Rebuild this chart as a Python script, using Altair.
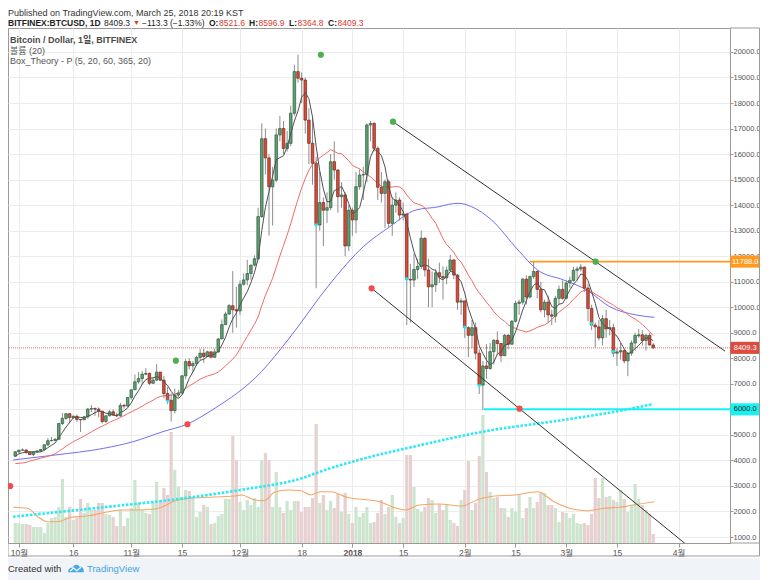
import altair as alt
import pandas as pd

# ---------------- data ----------------
# day index: 0 = 2017-10-01, -1 = 2017-09-30 ... 175 = 2018-03-25
first_day = -1
opens = [4166,
 4341,4403,4409,4317,4229,4328,4370,4426,4611,4773,4782,4826,5446,5647,5831,5678,5725,5605,5590,5708,6011,6031,6008,5930,5526,5750,5904,5780,5753,6153,6130,
 6468,6767,7078,7207,7379,7407,7022,7144,7459,7143,6618,6357,5950,6559,6635,7315,7871,7708,7790,8036,8200,8071,8253,8039,8250,8758,9318,9734,10059,9900,
 9856,10900,11070,11320,11650,11900,13550,16600,15850,14720,14980,16750,17000,16220,16420,17600,19230,18970,18900,17330,16420,15640,13220,14100,13800,13900,15700,15375,14330,14400,12400,
 13800,13420,14722,15180,15200,17140,17200,16224,14700,14460,14917,13285,14000,14200,13610,13650,11090,11065,11480,11600,12700,11460,10800,10880,11350,11200,11150,11450,11850,11260,10200,
 10250,9200,8900,9200,8200,6950,7700,7600,8260,8700,8580,8100,8900,8550,9450,10150,10200,11100,10400,11200,11400,10700,9900,10200,9700,9650,10350,10700,
 10350,10950,11050,11450,11500,11570,10750,9950,9300,9230,8800,9550,9150,9200,8200,8250,8300,7900,8200,8600,8880,8920,8700,8900,8521.6]
highs = [4358,
 4403,4470,4432,4352,4362,4413,4456,4624,4878,4922,4873,5446,5857,5837,5836,5776,5800,5605,5744,6060,6171,6076,6076,5935,5754,5971,6003,5876,6255,6214,6470,
 6766,7367,7461,7493,7617,7445,7254,7776,7459,7313,6873,6625,6812,6764,7342,7967,8004,7884,8101,8375,8374,8303,8267,8374,8790,9523,9817,10125,11417,10800,
 11046,11320,11858,11657,12032,13900,17200,17000,16000,15500,17000,17500,17300,16900,17900,19500,19891,19200,19000,17800,17400,15900,15300,14300,14500,16000,16500,15400,14900,14500,14000,
 13900,15300,15400,15500,17200,17300,17250,16300,15300,15000,15000,14300,14500,14300,14100,13700,11700,12100,11900,13000,12750,11900,11400,11500,11750,11600,11600,12050,11900,11300,10350,
 10250,9250,9500,9400,8350,7900,8550,8600,8750,9050,8580,8950,8950,9500,10250,10300,11150,11250,11250,11788,11450,11000,10300,10450,9900,10450,10850,11050,
 11050,11200,11580,11600,11700,11600,10900,10100,9400,9500,9700,9900,9500,9350,8400,8600,8350,8250,8700,9000,9150,9100,8950,9000,8596.9]
lows = [4160,
 4269,4377,4258,4210,4164,4320,4332,4405,4564,4744,4751,4822,5380,5591,5460,5649,5508,5111,5583,5627,5897,5746,5688,5451,5467,5721,5745,5689,5700,6030,6103,
 6378,6758,7002,6960,7333,6952,7000,7114,7101,6436,6204,5519,5844,6461,6634,7176,7561,7463,7694,7939,7824,8071,8038,8039,8214,8757,9318,9700,9000,9200,
 9694,10850,10863,11082,11604,11850,13500,15200,12800,13200,14900,16500,16000,16100,16300,17500,18800,18000,16800,15600,14800,10740,13000,12400,13300,13800,15000,13700,13900,12000,12200,
 12800,12900,14600,14200,14900,16500,16100,14200,14100,13100,13100,12800,13700,13400,13400,9300,9400,10800,11100,11500,11200,10000,10000,10600,10950,10300,10900,11400,11100,9900,9700,
 8800,8050,8400,7950,6600,5968,7200,7550,7750,8150,7850,8100,8350,8550,9400,9700,10100,10100,10350,11100,10350,9800,9600,9400,9300,9400,10100,10300,
 10300,10750,11000,11050,11400,10600,9450,9100,8400,8700,8500,8800,8900,8050,7700,7950,7800,7300,8100,8300,8800,8500,8300,8500,8364.8]
closes = [4338,
 4403,4409,4317,4229,4328,4370,4426,4611,4773,4782,4826,5446,5647,5831,5678,5725,5605,5590,5708,6011,6031,6008,5930,5526,5750,5904,5780,5753,6153,6130,6468,
 6767,7078,7207,7379,7407,7022,7144,7459,7143,6618,6357,5950,6559,6635,7315,7871,7708,7790,8036,8200,8071,8253,8039,8250,8758,9318,9734,10059,9900,9856,
 10900,11070,11320,11650,11900,13550,16600,15850,14720,14980,16750,17000,16220,16420,17600,19230,18970,18900,17330,16420,15640,13220,14100,13800,13900,15700,15375,14330,14400,12400,13800,
 13420,14722,15180,15200,17140,17200,16224,14700,14460,14917,13285,14000,14200,13610,13650,11090,11065,11480,11600,12700,11460,10800,10880,11350,11200,11150,11450,11850,11260,10200,10250,
 9200,8900,9200,8200,6950,7700,7600,8260,8700,8580,8100,8900,8550,9450,10150,10200,11100,10400,11200,11400,10700,9900,10200,9700,9650,10350,10700,10350,
 10950,11050,11450,11500,11570,10750,9950,9300,9230,8800,9550,9150,9200,8200,8250,8300,7900,8200,8600,8900,8920,8700,8900,8521.6,8409.3]
# volume, thousand BTC
volumes = [20,
 20,19,19,18,16,16,16,10,20,25,26,36,64,26,36,23,25,44,30,40,33,33,40,40,29,28,26,17,33,17,25,
 35,63,40,33,30,29,40,61,43,55,48,111,73,56,46,53,52,46,26,31,38,36,19,20,27,29,44,44,107,83,
 41,33,43,38,45,36,83,90,83,36,71,36,30,42,33,42,42,31,36,36,45,119,40,48,33,42,35,49,31,50,29,
 20,36,26,30,36,20,21,30,43,29,36,48,26,20,25,88,88,56,34,31,36,45,43,30,39,33,38,23,20,17,43,
 53,82,33,40,87,128,71,51,45,46,35,35,26,35,31,48,25,35,46,35,41,51,50,38,38,35,21,31,
 30,25,29,20,19,20,18,29,65,45,65,46,47,43,41,53,44,31,38,59,44,38,33,29,9]
# closes of 2017-09-11 .. 2017-09-29 (needed for the 5/20 day averages)
warmup_close = [4161,4130,3883,3155,3637,3625,3582,4066,3925,3906,3631,3631,3777,3660,3927,3892,4209,4186,4164]

ma60_day = [-1.6,10,23.4,31.5,39.7,46.5,53.3,66.9,74.2,86,95,102.3,109.5,115.9,118.6,121.3,124.9,130.4,137.7,143.1,150.3,156.7,163,170.3,175.3]
ma60_val = [4016,4212,4474,4733,5125,5426,5974,7475,8716,10950,12371,13154,13809,13938,14032,14071,13938,13417,12242,11458,11067,10675,10021,9696,9605]
ma365_day = [-1.6,23,45,61,78,86,92,113,128,150,167,175]
ma365_val = [1795,2160,2510,2840,3300,3700,3950,4670,5125,5580,5975,6210]
volma_day = [-1.6,2.4,5.2,7.9,10.6,14.4,18.8,23.4,28,32.4,37,39.7,42.4,47.1,52.5,56,59.6,61.5,65,67.7,70.5,74.3,77.8,80.5,83.2,86,90.5,99.6,104.1,106.8,110.4,115.9,122.2,126.8,131.3,136.8,143.1,147.6,153.1,156.7,161.2,165.8,169.4,175.3]
volma_val = [35.7,34.7,26.3,21.3,21.3,25.7,27,30.3,33,33,33.7,36.3,41.3,44.7,45.7,46.3,47,48,43,42.3,50.7,53,52.3,48,51.3,51.3,45.7,41.3,34.7,33,38,39,37,43.7,47,48,51.3,41.3,33.7,32.3,34.7,35.7,38,41.3]

green_dot_day = [83.3,103.2,43.3,159.1]
green_dot_val = [19891,17268,7906,11785]
red_dot_day = [97.3,138.1,46.5,-2.4]
red_dot_val = [10742,6026,5415,2998]
cyan_day = [41,82,107,123,127,158,164]
cyan_val = [6300,13200,11090,9200,6900,9330,8240]

trend_up_day = [103.2,194.8]
trend_up_val = [17268,8283]
trend_dn_day = [97.3,190.0]
trend_dn_val = [10742,26]

box_top_day, box_top_val = 141, 11788.0
box_bottom_day, box_bottom_val = 128.3, 6000.0
last_price = 8409.3

tick_days = [0,15,31,45,61,78,92,106,123,137,151,165,182]
tick_labels = ['10월','16','11월','15','12월','18','2018','15','2월','15','3월','15','4월']
price_ticks = list(range(1000, 20001, 1000))

# ---------------- chart ----------------
FONT = "Liberation Sans, Noto Sans CJK KR, sans-serif"
W, H = 722, 515
RIGHT = 752          # svg width (plot + right axis)
one = pd.DataFrame({'k': [0]})

xscale = alt.Scale(domain=[-1.63, 194.8], nice=False, zero=False)
pscale = alt.Scale(domain=[765, 20938], nice=False, zero=False)
vscale = alt.Scale(domain=[0, 515], nice=False)

label_expr = ("[" + ",".join("'%s'" % t for t in tick_labels) + "][indexof(["
              + ",".join(str(d) for d in tick_days) + "], datum.value)]")
x_axis = alt.Axis(values=tick_days, labelExpr=label_expr, title=None, grid=True,
                  gridColor='#ececec', domainColor='#9a9a9a', tickColor='#9a9a9a',
                  tickSize=4, labelColor='#555555', labelFontSize=8.5, labelFont=FONT,
                  labelPadding=1, labelFlush=False,
                  labelFontWeight={"condition": {"test": "datum.value == 92", "value": "bold"}, "value": "normal"})
y_axis = alt.Axis(orient='right', values=price_ticks, format='.1f', title=None, grid=True,
                  gridColor='#ececec', domainColor='#9a9a9a', tickColor='#9a9a9a',
                  tickSize=3, labelColor='#555555', labelFontSize=7.5, labelFont=FONT,
                  labelPadding=0)

def X(f='d'):
    return alt.X(f + ':Q', scale=xscale, axis=x_axis)

def Y(f):
    return alt.Y(f + ':Q', scale=pscale, axis=y_axis)

cdf = pd.DataFrame({'d': list(range(first_day, first_day + len(closes))),
                    'o': opens, 'h': highs, 'l': lows, 'c': closes, 'v': volumes})
up = 'datum.c >= datum.o'

vol_bars = alt.Chart(cdf).mark_bar(size=3.2, orient='vertical').encode(
    x=X(), y=alt.Y('v:Q', scale=vscale, axis=None),
    color=alt.condition(up, alt.value('#cde5ce'), alt.value('#e7d0d0')))
vol_ma = alt.Chart(pd.DataFrame({'d': volma_day, 'v': volma_val})).mark_line(
    color='#f6a567', strokeWidth=1.1, interpolate='monotone').encode(
    x=X(), y=alt.Y('v:Q', scale=vscale, axis=None))
vol_layer = alt.layer(vol_bars, vol_ma)

ma_df = pd.DataFrame({'d': list(range(first_day - len(warmup_close), first_day + len(closes))),
                      'c': warmup_close + closes})
sortd = [alt.SortField(field='d', order='ascending')]
ma20 = alt.Chart(ma_df).transform_window(m='mean(c)', frame=[-19, 0], sort=sortd).transform_filter(
    'datum.d >= -1').mark_line(color='#f26a6a', strokeWidth=1).encode(x=X(), y=Y('m'))
ma5 = alt.Chart(ma_df).transform_window(m='mean(c)', frame=[-4, 0], sort=sortd).transform_filter(
    'datum.d >= -1').mark_line(color='#505050', strokeWidth=1).encode(x=X(), y=Y('m'))
ma60 = alt.Chart(pd.DataFrame({'d': ma60_day, 'm': ma60_val})).mark_line(
    color='#6f6ff5', strokeWidth=1, interpolate='monotone').encode(x=X(), y=Y('m'))
ma365 = alt.Chart(pd.DataFrame({'d': ma365_day, 'm': ma365_val})).mark_line(
    color='#2ee8f5', strokeWidth=2.6, strokeDash=[2.6, 1.6], interpolate='monotone').encode(x=X(), y=Y('m'))

last_line = alt.Chart(pd.DataFrame({'p': [last_price]})).mark_rule(
    color='#e57368', strokeDash=[1, 1], strokeWidth=1).encode(y=Y('p'))
top_line = alt.Chart(pd.DataFrame({'d': [box_top_day], 'p': [box_top_val]})).mark_rule(
    color='#ff9a1f', strokeWidth=1.6).encode(x=X(), x2=alt.value(W), y=Y('p'))
bottom_line = alt.Chart(pd.DataFrame({'d': [box_bottom_day], 'p': [box_bottom_val]})).mark_rule(
    color='#16f2f2', strokeWidth=2).encode(x=X(), x2=alt.value(W), y=Y('p'))

wicks = alt.Chart(cdf).mark_rule(color='#8c8c8c', strokeWidth=1).encode(x=X(), y=Y('l'), y2='h')
bodies = alt.Chart(cdf).mark_bar(size=2.6, strokeWidth=0.7, orient='vertical').encode(
    x=X(), y=Y('o'), y2='c',
    color=alt.condition(up, alt.value('#5f9f72'), alt.value('#e04a35')),
    stroke=alt.condition(up, alt.value('#2f5b3c'), alt.value('#6a2a22')))

t_up = alt.Chart(pd.DataFrame({'d': trend_up_day, 'p': trend_up_val})).mark_line(
    color='#333333', strokeWidth=1, clip=True).encode(x=X(), y=Y('p'))
t_dn = alt.Chart(pd.DataFrame({'d': trend_dn_day, 'p': trend_dn_val})).mark_line(
    color='#333333', strokeWidth=1, clip=True).encode(x=X(), y=Y('p'))

gdots = alt.Chart(pd.DataFrame({'d': green_dot_day, 'p': green_dot_val})).mark_circle(
    size=38, color='#4caf50', opacity=1).encode(x=X(), y=Y('p'))
rdots = alt.Chart(pd.DataFrame({'d': red_dot_day, 'p': red_dot_val})).mark_circle(
    size=38, color='#f24b4b', opacity=1).encode(x=X(), y=Y('p'))
cmarks = alt.Chart(pd.DataFrame({'d': cyan_day, 'p': cyan_val})).mark_point(
    shape='triangle-down', filled=True, size=22, color='#29e6f2', opacity=1).encode(x=X(), y=Y('p'))

BOX = "M-1,-0.41L1,-0.41L1,0.41L-1,0.41Z"
TAG_X = 737.2
def tag(price, fill, tcolor):
    df = pd.DataFrame({'p': [price], 't': ['%.1f' % price]})
    b = alt.Chart(df).mark_point(shape=BOX, size=870, filled=True, color=fill, opacity=1).encode(
        x=alt.value(TAG_X), y=Y('p'))
    t = alt.Chart(df).mark_text(fontSize=7.5, font=FONT, color=tcolor, align='center',
                                baseline='middle').encode(x=alt.value(TAG_X), y=Y('p'), text='t:N')
    return [b, t]

def txt(s, px, py, size=10, color='#333333', bold=False):
    return alt.Chart(one).mark_text(text=s, align='left', baseline='middle', fontSize=size,
                                    font=FONT, color=color,
                                    fontWeight='bold' if bold else 'normal').encode(
        x=alt.value(px), y=alt.value(py))

def rule(x, x2, y, y2, color='#9a9a9a'):
    return alt.Chart(one).mark_rule(color=color, strokeWidth=1).encode(
        x=alt.value(x), x2=alt.value(x2), y=alt.value(y), y2=alt.value(y2))

RED = '#d83a2e'
DK = '#222222'
L2 = -5.5
header = [
    txt('Published on TradingView.com, March 25, 2018 20:19 KST', 0, -15.5, 9, '#333333'),
    txt('BITFINEX:BTCUSD, 1D', 0, L2, 8.5, DK, True),
    txt('8409.3', 96, L2, 8.5, DK),
    txt('▼', 125, L2, 7, RED),
    txt('−113.3 (−1.33%)', 134, L2, 8.5, DK),
    txt('O:', 201, L2, 8.5, DK, True), txt('8521.6', 211, L2, 8.5, RED),
    txt('H:', 241, L2, 8.5, DK, True), txt('8596.9', 250.5, L2, 8.5, RED),
    txt('L:', 281, L2, 8.5, DK, True), txt('8364.8', 289.5, L2, 8.5, RED),
    txt('C:', 320, L2, 8.5, DK, True), txt('8409.3', 329.5, L2, 8.5, RED),
]
legend = [
    txt('Bitcoin / Dollar, 1일, BITFINEX', 2, 12, 9, '#4a4a4a', True),
    txt('볼륨 (20)', 2, 22.5, 9, '#555555'),
    txt('Box_Theory - P (5, 20, 60, 365, 20)', 2, 33, 9, '#555555'),
]
footer_bg = alt.Chart(one).mark_rect(color='#f0f3f8').encode(
    x=alt.value(0), x2=alt.value(RIGHT), y=alt.value(530), y2=alt.value(552))
CLOUD = ("M-1,0.55C-1.05,0.15 -0.75,-0.1 -0.45,0C-0.35,-0.45 0.25,-0.6 0.45,-0.15"
         "C0.8,-0.25 1.05,0.1 1,0.55Z")
WAVE = "M-0.75,0.4L-0.3,0L0.1,0.35L0.65,-0.1"
LOGO_X = 68
logo = [
    alt.Chart(one).mark_point(shape=CLOUD, size=240, filled=True, color='#45a9e3', opacity=1).encode(
        x=alt.value(LOGO_X), y=alt.value(540)),
    alt.Chart(one).mark_point(shape=WAVE, size=240, filled=False, color='white', strokeWidth=1.3,
                              opacity=1).encode(x=alt.value(LOGO_X), y=alt.value(540)),
]
footer = [footer_bg,
          txt('Created with', 0, 541, 9.5, '#333333'),
          *logo,
          txt('TradingView', 79, 541, 9.5, '#3fa4dd')]
RB = RIGHT - 0.5
frame = [rule(W, RB, 0, 0), rule(RB, RB, 0, 528), rule(0, RB, 528, 528),
         rule(0, 0, H, 528), rule(W, RB, H, H)]

price_layer = alt.layer(
    ma365, ma60, ma20, last_line, top_line, bottom_line, wicks, bodies, ma5,
    t_up, t_dn, gdots, rdots, cmarks,
    *tag(box_top_val, '#ff9a1f', 'white'), *tag(last_price, '#dd4b3e', 'white'),
    *tag(box_bottom_val, '#1af0f0', '#222222'),
    *header, *legend, *footer, *frame)

chart = alt.layer(vol_layer, price_layer).resolve_scale(y='independent').properties(
    width=W, height=H,
    autosize=alt.AutoSizeParams(type='none'),
    padding={'left': 0, 'top': 20, 'right': RIGHT - W, 'bottom': 37},
    background='white',
).configure_view(stroke='#9a9a9a', strokeWidth=1)

chart.save("out.html", embed_options={"renderer": "svg", "actions": False})
